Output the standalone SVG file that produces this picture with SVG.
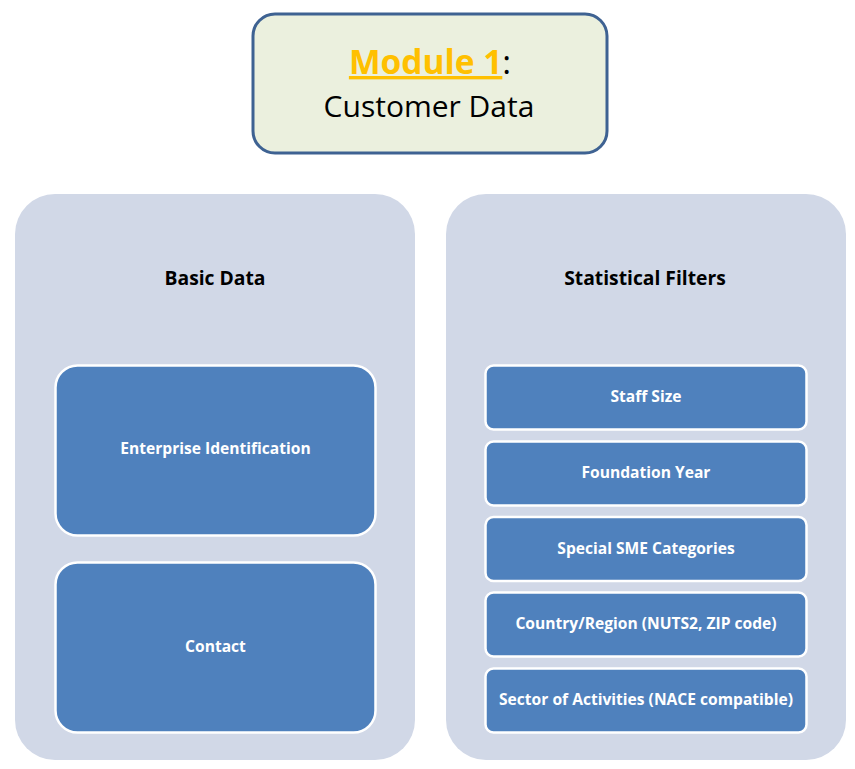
<svg xmlns="http://www.w3.org/2000/svg" width="855" height="769" viewBox="0 0 855 769">
<style>
.panel{fill:#d1d8e7}
.box{fill:#4f81bd;stroke:#ffffff;stroke-width:2.5}
.lbl{font-family:"Open Sans","Liberation Sans",sans-serif;font-weight:bold;font-size:15.6px;fill:#ffffff;text-anchor:middle}
.hdr{font-family:"Open Sans","Liberation Sans",sans-serif;font-weight:bold;font-size:19.3px;fill:#000000;text-anchor:middle}
.ttl{font-family:"Open Sans","Liberation Sans",sans-serif;font-size:30px;text-anchor:middle}
</style>
<rect width="855" height="769" fill="#ffffff"/>
<g id="title">
<rect x="253" y="14" width="354" height="139" rx="22" fill="#ebf0de" stroke="#3e6292" stroke-width="3"/>
<text class="ttl" x="430" y="74"><tspan fill="#ffc000" font-weight="bold" font-size="33.5" text-decoration="underline">Module 1</tspan><tspan fill="#000000" font-size="33.5">:</tspan></text>
<text class="ttl" x="429" y="117" fill="#000000">Customer Data</text>
</g>
<g id="basic-data">
<rect class="panel" x="15" y="194" width="400" height="566" rx="40"/>
<text class="hdr" x="215" y="285">Basic Data</text>
</g>
<g id="statistical-filters">
<rect class="panel" x="446" y="194" width="400" height="566" rx="40"/>
<text class="hdr" x="645" y="285">Statistical Filters</text>
</g>
<g id="enterprise-identification">
<rect class="box" x="55.5" y="365.5" width="320" height="170" rx="22"/>
<text class="lbl" x="215.5" y="454">Enterprise Identification</text>
</g>
<g id="contact">
<rect class="box" x="55.5" y="562.5" width="320" height="170" rx="22"/>
<text class="lbl" x="215.5" y="652">Contact</text>
</g>
<g id="staff-size">
<rect class="box" x="485.5" y="365.5" width="321" height="64" rx="8"/>
<text class="lbl" x="646" y="402">Staff Size</text>
</g>
<g id="foundation-year">
<rect class="box" x="485.5" y="441.5" width="321" height="64" rx="8"/>
<text class="lbl" x="646" y="478">Foundation Year</text>
</g>
<g id="special-sme">
<rect class="box" x="485.5" y="517" width="321" height="64" rx="8"/>
<text class="lbl" x="646" y="554">Special SME Categories</text>
</g>
<g id="country-region">
<rect class="box" x="485.5" y="592.5" width="321" height="64" rx="8"/>
<text class="lbl" x="646" y="629">Country/Region (NUTS2, ZIP code)</text>
</g>
<g id="sector">
<rect class="box" x="485.5" y="668.5" width="321" height="64" rx="8"/>
<text class="lbl" x="646" y="705">Sector of Activities (NACE compatible)</text>
</g>
<g id="connectors"></g>
</svg>
